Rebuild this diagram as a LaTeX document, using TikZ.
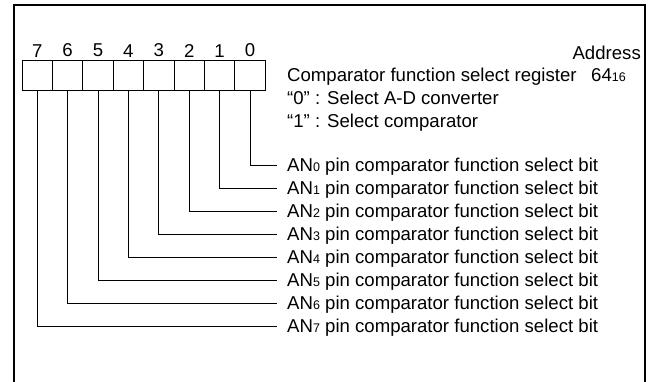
\documentclass[tikz,border=0pt]{standalone}
\usepackage{fontspec}
\setmainfont{Liberation Sans}
\usetikzlibrary{positioning}
\newcommand{\pinsub}[1]{{\fontsize{12.5}{12.5}\selectfont #1}}

\begin{document}
\begin{tikzpicture}[x=1pt,y=-1pt,
  every node/.style={font=\fontsize{18.6}{22}\selectfont},
  bitcell/.style={draw, minimum width=30.4pt, minimum height=30pt, inner sep=0pt, line width=0.9pt},
  bitlabel/.style={anchor=west, inner xsep=10pt, inner ysep=0pt, text height=13pt, text depth=0pt},
  wire/.style={line width=0.9pt}]
  \useasboundingbox (0,0) rectangle (650,381);
  % outer frame
  \draw[line width=2pt] (14,383) -- (14,5) -- (645,5) -- (645,383);
  % register bits
  \foreach \i in {0,...,7} {
    \node[bitcell] (b\i) at ({250-30.4*\i},75.7) {};
    \node[above=0pt of b\i, inner sep=3pt] (n\i) {\i};
    \node[bitlabel] (an\i) at (277,{165+23*\i}) {AN\pinsub{\i} pin comparator function select bit};
    \draw[wire] (b\i.south) |- (an\i.west);
  }
  \node[anchor=east, inner sep=0pt, text height=13pt, text depth=0pt] (addr) at (641,53) {Address};
  \node[bitlabel] (title) at (277,75) {Comparator function select register};
  \node[anchor=west, inner sep=0pt, text height=13pt, text depth=0pt] (val) at (591,75) {64\pinsub{16}};
  \node[bitlabel] (sel0) at (277,98) {“0” : Select A-D converter};
  \node[bitlabel] (sel1) at (277,121) {“1” : Select comparator};
\end{tikzpicture}
\end{document}
